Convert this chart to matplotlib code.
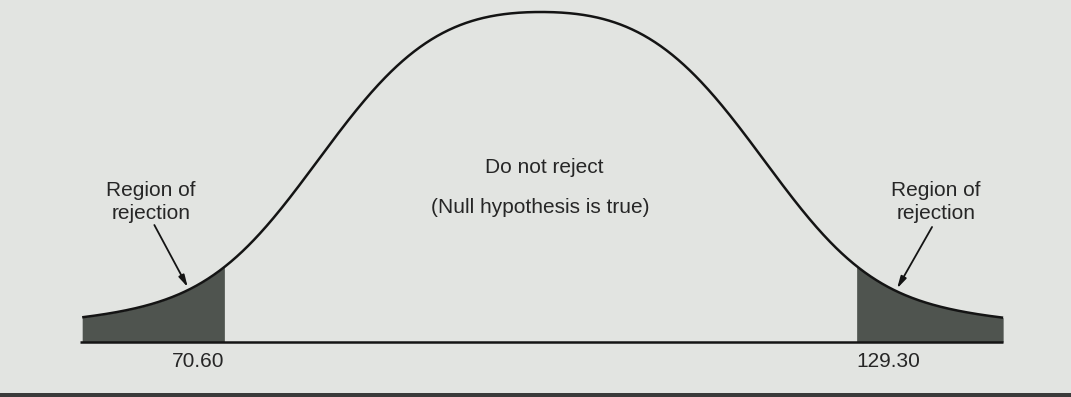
import numpy as np
import matplotlib.pyplot as plt
from matplotlib.patches import Rectangle

plt.rcParams['font.family'] = ['Liberation Sans', 'DejaVu Sans']

# critical values and the spread of the drawn curve
mean = 100.0
lower_crit = 70.60
upper_crit = 129.30
x_start, x_end = 57.4, 142.9

# bell shape: flat-topped core + wide shoulder + small floor for the tails
core_h, core_w, core_p = 0.597, 23.26, 3.3
broad_h, broad_w = 0.3636, 27.86
floor = 0.0394

region_label = 'Region of\nrejection'
accept_label = 'Do not reject'
null_label = '(Null hypothesis is true)'

bg = '#e2e4e1'
shade = '#4f544f'
ink = '#141414'
text_col = '#262626'


def curve(x):
    d = np.abs(x - mean)
    return (floor + broad_h * np.exp(-(d / broad_w) ** 2)
            + core_h * np.exp(-(d / core_w) ** core_p))


fig = plt.figure(figsize=(10.71, 3.97), dpi=100)
fig.patch.set_facecolor(bg)
ax = fig.add_axes([0, 0, 1, 1])
ax.set_facecolor(bg)
ax.set_xlim(49.77, 149.2)
ax.set_ylim(-0.16667, 1.03636)
ax.axis('off')

# shaded rejection tails
xl = np.linspace(x_start, lower_crit, 200)
xr = np.linspace(upper_crit, x_end, 200)
ax.fill_between(xl, 0, curve(xl), color=shade, lw=0)
ax.fill_between(xr, 0, curve(xr), color=shade, lw=0)

# curve and axis line
xs = np.linspace(x_start, x_end, 800)
ax.plot(xs, curve(xs), color=ink, lw=1.8, solid_capstyle='butt')
ax.plot([x_start - 0.2, x_end], [0, 0], color=ink, lw=1.8, solid_capstyle='butt')

# critical values
ax.text(lower_crit, -0.0758, f'{lower_crit:.2f}', ha='right', va='baseline',
        fontsize=15, color=text_col)
ax.text(upper_crit, -0.0758, f'{upper_crit:.2f}', ha='left', va='baseline',
        fontsize=15, color=text_col)

# labels
ax.text(100.28, 0.5121, accept_label, ha='center', va='baseline', fontsize=15, color=text_col)
ax.text(99.9, 0.3909, null_label, ha='center', va='baseline', fontsize=15, color=text_col)

for tx, tip_x, tail_x, tail_y in [(63.79, 67.2, 64.1, 0.3545), (136.68, 133.05, 136.3, 0.3485)]:
    ax.text(tx, 0.4242, region_label, ha='center', va='center', fontsize=15,
            color=text_col, linespacing=1.25)
    ax.annotate('', xy=(tip_x, curve(tip_x) + 0.009), xytext=(tail_x, tail_y),
                arrowprops=dict(arrowstyle='-|>,head_length=0.7,head_width=0.18',
                                color=ink, lw=1.3, shrinkA=0, shrinkB=0))

# dark strip along the bottom edge
fig.add_artist(Rectangle((0, 0), 1, 4 / 397, transform=fig.transFigure,
                         color='#3a3a3a', lw=0))

fig.savefig('out.png', dpi=100, facecolor=bg)
